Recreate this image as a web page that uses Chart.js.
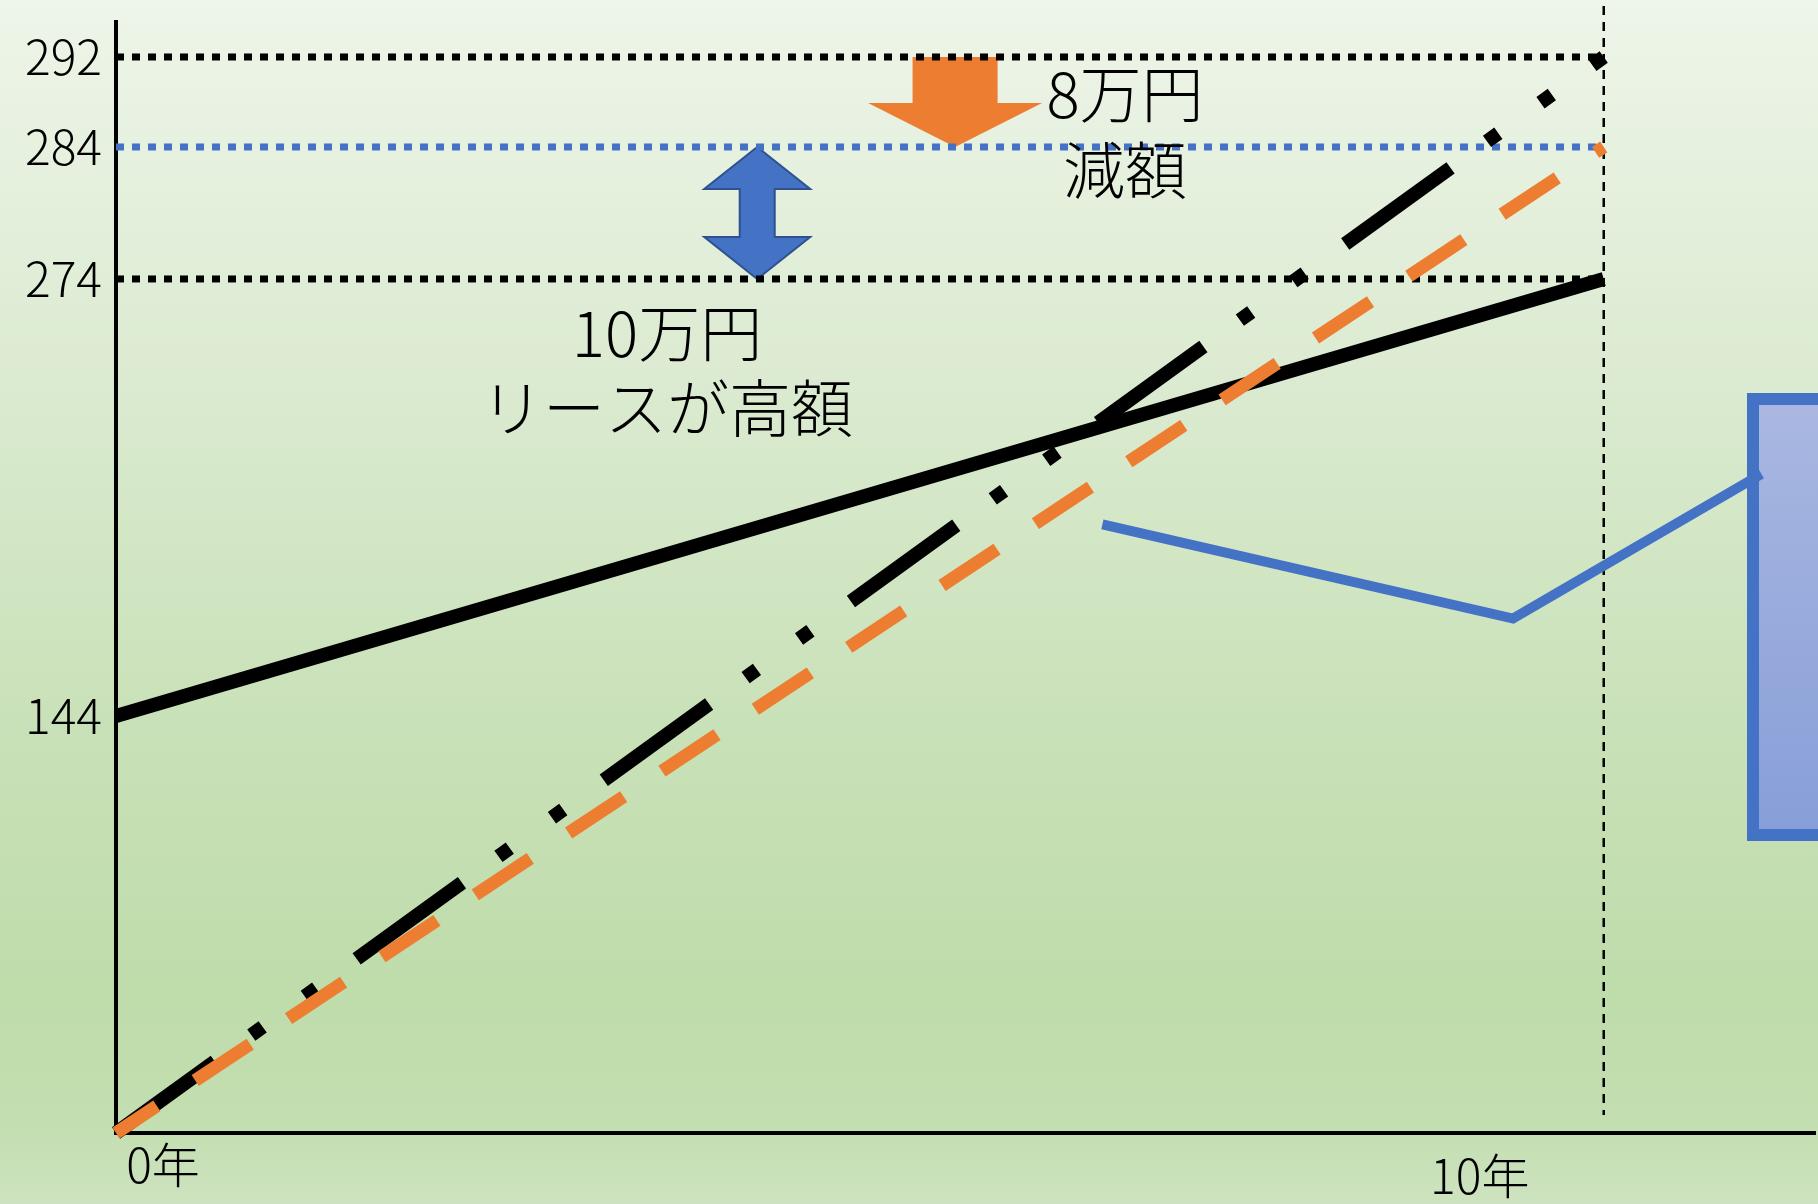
<!DOCTYPE html>
<html lang="ja">
<head>
<meta charset="utf-8">
<title>リースと購入の費用比較</title>
<script src="https://cdn.jsdelivr.net/npm/chart.js@4.4.1/dist/chart.umd.min.js"></script>
<style>
  html, body { margin: 0; padding: 0; background: #dfecd5; }
  #wrap { width: 1818px; height: 1204px; }
</style>
</head>
<body>
<div id="wrap"><canvas id="costChart" width="1818" height="1204"></canvas></div>
<script>
// years on the x axis
const years = [0, 10];
const xTickValues = [0, 10];
const xTickLabels = ["0年", "10年"];

// cumulative cost (万円)
const leaseCost = [144, 274];
const buyCost = [0, 292];
const buyCostReduced = [0, 284];

// horizontal reference levels
const levelBuy = [292, 292];
const levelReduced = [284, 284];
const levelLease = [274, 274];

// callout pointer
const pointerYears = [6.63, 9.39, 11.06];
const pointerValues = [201, 173, 216];

const yTickValues = [144, 274, 284, 292];

const FONT = '"Noto Sans CJK JP", "Noto Sans", sans-serif';
const BLUE = "#4472C4";
const ORANGE = "#ED7D31";

// linear scale with a piecewise mapping so the upper values get room
class BrokenScale extends Chart.LinearScale {
  toFraction(value) {
    const stops = this.options.stops;
    if (value <= stops[0][0]) return stops[0][1];
    for (let i = 1; i < stops.length; i++) {
      const [v0, f0] = stops[i - 1];
      const [v1, f1] = stops[i];
      if (value <= v1) return f0 + (value - v0) / (v1 - v0) * (f1 - f0);
    }
    return stops[stops.length - 1][1];
  }
  getPixelForValue(value) {
    if (value === null || value === undefined) return NaN;
    return this.getPixelForDecimal(this.toFraction(value));
  }
  getValueForPixel(pixel) {
    const f = this.getDecimalForPixel(pixel);
    const stops = this.options.stops;
    for (let i = 1; i < stops.length; i++) {
      const [v0, f0] = stops[i - 1];
      const [v1, f1] = stops[i];
      if (f <= f1) return v0 + (f - f0) / (f1 - f0) * (v1 - v0);
    }
    return stops[stops.length - 1][0];
  }
}
BrokenScale.id = "broken";
BrokenScale.defaults = Chart.LinearScale.defaults;
Chart.register(BrokenScale);

const toPoints = (xs, ys) => xs.map((x, i) => ({ x, y: ys[i] }));

const background = {
  id: "background",
  beforeDraw(chart) {
    const { ctx, width, height } = chart;
    const g = ctx.createLinearGradient(0, 0, 0, height);
    g.addColorStop(0, "#eef5e9");
    g.addColorStop(0.3, "#dcebd2");
    g.addColorStop(0.6, "#c9e1b8");
    g.addColorStop(0.82, "#bfdcab");
    g.addColorStop(0.93, "#c3deb0");
    g.addColorStop(1, "#cde3bf");
    ctx.save();
    ctx.fillStyle = g;
    ctx.fillRect(0, 0, width, height);
    ctx.restore();
  }
};

function drawDoubleArrow(ctx, x, yTop, yBot, o) {
  const { headHalf: hw, shaftHalf: sw, headHeight: hh } = o;
  ctx.beginPath();
  ctx.moveTo(x, yTop);
  ctx.lineTo(x + hw, yTop + hh);
  ctx.lineTo(x + sw, yTop + hh);
  ctx.lineTo(x + sw, yBot - hh);
  ctx.lineTo(x + hw, yBot - hh);
  ctx.lineTo(x, yBot);
  ctx.lineTo(x - hw, yBot - hh);
  ctx.lineTo(x - sw, yBot - hh);
  ctx.lineTo(x - sw, yTop + hh);
  ctx.lineTo(x - hw, yTop + hh);
  ctx.closePath();
  ctx.fillStyle = o.fill;
  ctx.fill();
  ctx.lineWidth = 2;
  ctx.strokeStyle = o.stroke;
  ctx.stroke();
}

function drawDownArrow(ctx, x, yTop, yBot, o) {
  const { headHalf: hw, shaftHalf: sw, headHeight: hh } = o;
  ctx.beginPath();
  ctx.moveTo(x - sw, yTop);
  ctx.lineTo(x + sw, yTop);
  ctx.lineTo(x + sw, yBot - hh);
  ctx.lineTo(x + hw, yBot - hh);
  ctx.lineTo(x, yBot);
  ctx.lineTo(x - hw, yBot - hh);
  ctx.lineTo(x - sw, yBot - hh);
  ctx.closePath();
  ctx.fillStyle = o.fill;
  ctx.fill();
}

const decorations = {
  id: "decorations",
  beforeDatasetsDraw(chart, args, opts) {
    const { ctx, scales: { x, y } } = chart;
    ctx.save();

    // callout box at the right edge
    const b = opts.box;
    const g = ctx.createLinearGradient(0, b.top, 0, b.bottom);
    g.addColorStop(0, "#aab8e1");
    g.addColorStop(1, "#879ed8");
    ctx.fillStyle = g;
    ctx.fillRect(b.left, b.top, b.right - b.left, b.bottom - b.top);
    ctx.lineWidth = 12;
    ctx.strokeStyle = BLUE;
    ctx.strokeRect(b.left, b.top, b.right - b.left, b.bottom - b.top);

    // vertical marker at year 10
    const xv = x.getPixelForValue(opts.marker.year);
    ctx.beginPath();
    ctx.setLineDash([9, 7]);
    ctx.lineWidth = 2.5;
    ctx.strokeStyle = "#000";
    ctx.moveTo(xv, opts.marker.top);
    ctx.lineTo(xv, opts.marker.bottom);
    ctx.stroke();
    ctx.setLineDash([]);

    // difference arrows
    const d = opts.diffArrow;
    drawDoubleArrow(ctx, x.getPixelForValue(d.year), y.getPixelForValue(d.from), y.getPixelForValue(d.to), d);
    const r = opts.reduceArrow;
    drawDownArrow(ctx, x.getPixelForValue(r.year), y.getPixelForValue(r.from), y.getPixelForValue(r.to), r);

    ctx.restore();
  },
  afterDatasetsDraw(chart, args, opts) {
    const { ctx, scales: { x } } = chart;
    ctx.save();
    ctx.fillStyle = "#000";
    ctx.textAlign = "center";
    ctx.textBaseline = "middle";

    opts.notes.forEach(n => {
      ctx.font = `300 ${n.size}px ${FONT}`;
      n.lines.forEach((line, i) => ctx.fillText(line, n.x, n.y + i * n.lineHeight));
    });

    // x axis labels
    ctx.font = `300 48px ${FONT}`;
    xTickValues.forEach((v, i) => {
      const off = opts.xLabelOffsets[i];
      ctx.fillText(xTickLabels[i], x.getPixelForValue(v) + off.dx, off.y);
    });
    ctx.restore();
  }
};

const line = (data, color, width, dash, dashOffset) => ({
  data,
  borderColor: color,
  borderWidth: width,
  borderDash: dash || [],
  borderDashOffset: dashOffset || 0,
  borderCapStyle: "butt",
  borderJoinStyle: "miter",
  pointRadius: 0,
  tension: 0,
  fill: false,
  clip: false
});

new Chart(document.getElementById("costChart"), {
  type: "line",
  data: {
    datasets: [
      line(toPoints(years, buyCostReduced), ORANGE, 13, [66, 46], 17),
      line(toPoints(years, buyCost), "#000", 14, [130, 45, 14, 52, 14, 50], 8),
      line(toPoints(years, leaseCost), "#000", 14),
      line(toPoints(pointerYears, pointerValues), BLUE, 10),
      line(toPoints(years, levelReduced), BLUE, 7, [8, 8]),
      line(toPoints(years, levelBuy), "#000", 7, [8, 8]),
      line(toPoints(years, levelLease), "#000", 7, [8, 8])
    ]
  },
  options: {
    responsive: false,
    animation: false,
    events: [],
    devicePixelRatio: 1,
    layout: { padding: { top: 22, right: 3, left: 0, bottom: 0 } },
    scales: {
      x: {
        type: "linear",
        min: 0,
        max: 11.42,
        grid: { display: false, drawTicks: false },
        border: { display: true, color: "#000", width: 4 },
        ticks: { display: false },
        afterFit: s => { s.height = 71; s.paddingLeft = 0; s.paddingRight = 0; }
      },
      y: {
        type: "broken",
        min: 0,
        max: 300,
        stops: [[0, 0], [144, 0.3753], [274, 0.7687], [284, 0.8875], [292, 0.9685], [300, 1]],
        grid: { display: false, drawTicks: false },
        border: { display: true, color: "#000", width: 4 },
        afterBuildTicks: s => { s.ticks = yTickValues.map(value => ({ value })); },
        afterFit: s => { s.width = 116; s.paddingTop = 0; s.paddingBottom = 0; },
        ticks: {
          autoSkip: false,
          padding: 14,
          color: "#000",
          font: { family: FONT, size: 48, weight: 300 },
          callback: v => String(v)
        }
      }
    },
    plugins: {
      legend: { display: false },
      tooltip: { enabled: false },
      decorations: {
        box: { left: 1753, top: 399, right: 1840, bottom: 835 },
        marker: { year: 10, top: 6, bottom: 1115 },
        diffArrow: { year: 4.31, from: 284, to: 274, headHalf: 53, shaftHalf: 17.5, headHeight: 42, fill: BLUE, stroke: "#2f528f" },
        reduceArrow: { year: 5.64, from: 292, to: 284, headHalf: 87, shaftHalf: 42.5, headHeight: 44, fill: ORANGE },
        notes: [
          { lines: ["8万円", "減額"], x: 1125, y: 94, lineHeight: 76, size: 62 },
          { lines: ["10万円", "リースが高額"], x: 667, y: 333, lineHeight: 75, size: 62 }
        ],
        xLabelOffsets: [{ dx: 47, y: 1165 }, { dx: -124, y: 1176 }]
      }
    }
  },
  plugins: [background, decorations]
});
</script>
</body>
</html>
